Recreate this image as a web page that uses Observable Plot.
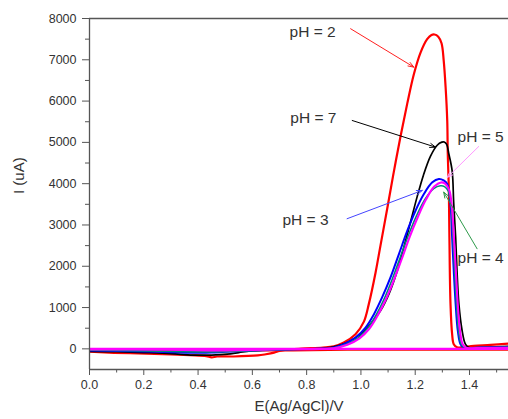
<!DOCTYPE html>
<html><head><meta charset="utf-8">
<script src="https://cdn.jsdelivr.net/npm/d3@7"></script>
<script src="https://cdn.jsdelivr.net/npm/@observablehq/plot@0.6"></script>
<style>body{margin:0;background:#fff;}</style>
</head><body><div id="chart"></div>
<script>
// ---- data (E in V, I in uA): forward sweep arrays and return sweep arrays ----
const ph2E = [0, 0.09, 0.21, 0.30, 0.37, 0.43, 0.45, 0.47, 0.53, 0.62, 0.65, 0.68, 0.70, 0.72, 0.78, 0.86, 0.90, 0.937, 0.98, 1.011, 1.029, 1.054, 1.072, 1.097, 1.121, 1.146, 1.171, 1.195, 1.220, 1.244, 1.260, 1.271, 1.285, 1.297, 1.305, 1.312, 1.318, 1.320, 1.324, 1.326, 1.330, 1.336, 1.342, 1.354, 1.416, 1.478, 1.544, 1.60];
const ph2I = [-70, -95, -115, -135, -155, -175, -205, -185, -185, -160, -130, -90, -50, -25, 5, 30, 60, 154, 356, 660, 1083, 1850, 2500, 3400, 4280, 5150, 5950, 6650, 7180, 7500, 7600, 7612, 7560, 7400, 6982, 6335, 5527, 4719, 3830, 2699, 1090, 356, 113, 40, 73, 97, 128, 150];
const ph2RetE = [1.60, 0.95, 0.75, 0];
const ph2RetI = [-20, -20, -35, -40];

const ph7E = [0, 0.1, 0.2, 0.3, 0.38, 0.45, 0.507, 0.55, 0.593, 0.65, 0.75, 0.85, 0.90, 0.949, 0.999, 1.035, 1.072, 1.103, 1.134, 1.158, 1.183, 1.207, 1.230, 1.256, 1.281, 1.298, 1.307, 1.316, 1.324, 1.336, 1.342, 1.349, 1.354, 1.361, 1.373, 1.385, 1.398, 1.45, 1.544, 1.60];
const ph7I = [-60, -70, -90, -115, -150, -150, -129, -90, -50, -30, -10, 15, 48, 154, 356, 598, 921, 1325, 1891, 2456, 3080, 3680, 4200, 4660, 4930, 5005, 5010, 4950, 4719, 4315, 3507, 2699, 1891, 1083, 436, 113, 32, 40, 60, 70];
const ph7RetE = [1.60, 0];
const ph7RetI = [-10, -10];

const ph3E = [0, 0.1, 0.2, 0.3, 0.4, 0.45, 0.5, 0.6, 0.7, 0.8, 0.85, 0.888, 0.937, 0.98, 1.017, 1.048, 1.078, 1.109, 1.140, 1.171, 1.201, 1.232, 1.263, 1.287, 1.305, 1.318, 1.330, 1.336, 1.342, 1.349, 1.357, 1.367, 1.379, 1.45, 1.544, 1.60];
const ph3I = [-40, -50, -65, -80, -95, -90, -70, -40, -20, -5, 0, 16, 113, 275, 517, 840, 1245, 1729, 2295, 2861, 3345, 3750, 4032, 4113, 4080, 3992, 3507, 2699, 1891, 1083, 436, 113, 32, 35, 40, 40];
const ph3RetE = [1.60, 0];
const ph3RetI = [-5, -5];

const ph4E = [0, 0.15, 0.3, 0.45, 0.55, 0.7, 0.85, 0.895, 0.945, 0.99, 1.025, 1.055, 1.085, 1.115, 1.145, 1.176, 1.206, 1.237, 1.268, 1.293, 1.308, 1.322, 1.333, 1.340, 1.346, 1.353, 1.360, 1.370, 1.382, 1.45, 1.544, 1.60];
const ph4I = [-30, -45, -60, -75, -55, -20, 0, 15, 105, 265, 500, 810, 1200, 1680, 2220, 2770, 3240, 3630, 3880, 3950, 3930, 3820, 3400, 2600, 1800, 1000, 420, 110, 30, 30, 35, 35];
const ph4RetE = [1.60, 0];
const ph4RetI = [-10, -10];

const ph5E = [0, 0.25, 0.45, 0.55, 0.7, 0.85, 0.90, 0.95, 0.995, 1.03, 1.06, 1.09, 1.12, 1.15, 1.18, 1.21, 1.24, 1.27, 1.295, 1.31, 1.325, 1.335, 1.343, 1.35, 1.357, 1.365, 1.375, 1.388, 1.45, 1.544, 1.60];
const ph5I = [-15, -20, -40, -35, -10, 0, 15, 100, 255, 480, 790, 1170, 1640, 2170, 2720, 3200, 3620, 3930, 4030, 4000, 3850, 3450, 2650, 1850, 1050, 430, 110, 30, 25, 25, 25];
const ph5RetE = [1.60, 0];
const ph5RetI = [0, 0];

// annotations
const labels = ["pH = 2", "pH = 7", "pH = 5", "pH = 3", "pH = 4"];
const labelE = [0.737, 0.740, 1.356, 0.711, 1.356];
const labelI = [7662, 5600, 5118, 3108, 2189];
const arrowE1 = [0.962, 0.968, 1.434, 0.949, 1.428];
const arrowI1 = [7752, 5530, 4901, 3151, 2424];
const arrowE2 = [1.195, 1.275, 1.318, 1.226, 1.305];
const arrowI2 = [6822, 4884, 4151, 3836, 3795];

// ticks
const xMajor = [0, 0.2, 0.4, 0.6, 0.8, 1.0, 1.2, 1.4];
const xMinor = [0.1, 0.3, 0.5, 0.7, 0.9, 1.1, 1.3, 1.5];
const yMajor = [0, 1000, 2000, 3000, 4000, 5000, 6000, 7000, 8000];
const yMinor = [500, 1500, 2500, 3500, 4500, 5500, 6500, 7500];

// ---- styles ----
const seriesStyle = [
  {E: ph2E, I: ph2I, rE: ph2RetE, rI: ph2RetI, color: "#ff0000", w: 2.2},
  {E: ph7E, I: ph7I, rE: ph7RetE, rI: ph7RetI, color: "#000000", w: 1.7},
  {E: ph3E, I: ph3I, rE: ph3RetE, rI: ph3RetI, color: "#0000ff", w: 2},
  {E: ph4E, I: ph4I, rE: ph4RetE, rI: ph4RetI, color: "#008a7a", w: 1.6},
  {E: ph5E, I: ph5I, rE: ph5RetE, rI: ph5RetI, color: "#ff00ff", w: 2.1}
];
const arrowColors = ["#ff2020", "#000000", "#ff99ff", "#4444ff", "#2e9a4a"];

const toRows = (E, I) => E.map((e, i) => ({E: e, I: I[i]}));
const ann = labels.map((t, i) => ({t, x: labelE[i], y: labelI[i]}));
const arr = labels.map((t, i) => ({x1: arrowE1[i], y1: arrowI1[i], x2: arrowE2[i], y2: arrowI2[i], c: arrowColors[i]}));

const axisColor = "#555";
const textColor = "#333";

const lineMarks = seriesStyle.flatMap(s => [
  Plot.line(toRows(s.rE, s.rI), {x: "E", y: "I", stroke: s.color, strokeWidth: s.w, clip: true}),
  Plot.line(toRows(s.E, s.I), {x: "E", y: "I", stroke: s.color, strokeWidth: s.w, clip: true, curve: "catmull-rom"})
]);

const plot = Plot.plot({
  width: 508, height: 419,
  marginLeft: 89, marginRight: 0, marginTop: 18, marginBottom: 50,
  x: {domain: [0, 1.5437]},
  y: {domain: [-500, 8000]},
  color: {type: "identity"},
  style: {fontFamily: "'Liberation Sans', Arial, sans-serif", fontSize: "12.5px", background: "#fff"},
  marks: [
    ...lineMarks,
    Plot.arrow(arr, {x1: "x1", y1: "y1", x2: "x2", y2: "y2", stroke: "c", strokeWidth: 1, headLength: 9, headAngle: 40}),
    Plot.text(ann, {x: "x", y: "y", text: "t", textAnchor: "start", fontSize: 15.5, fill: textColor}),
    Plot.ruleX([0], {stroke: axisColor, strokeWidth: 1.3}),
    Plot.ruleY([-500], {stroke: axisColor, strokeWidth: 1.3}),
    Plot.ruleY([8000], {stroke: axisColor, strokeWidth: 1.3}),
    Plot.axisX({ticks: xMajor, tickSize: 6, tickPadding: 5, tickFormat: d3.format(".1f"), stroke: axisColor, fill: textColor, label: null, fontSize: 12.5}),
    Plot.axisX({ticks: xMinor, tickSize: 3.5, tickFormat: () => "", stroke: axisColor, label: null}),
    Plot.axisY({ticks: yMajor, tickSize: 7, tickPadding: 6, tickFormat: d3.format("d"), stroke: axisColor, fill: textColor, label: null, fontSize: 12.5}),
    Plot.axisY({ticks: yMinor, tickSize: 4, tickFormat: () => "", stroke: axisColor, label: null}),
    Plot.text(["E(Ag/AgCl)/V"], {frameAnchor: "bottom", dy: 41, fontSize: 15, fill: textColor}),
    Plot.text(["I (uA)"], {frameAnchor: "left", dx: -70, rotate: -90, fontSize: 15, fill: textColor})
  ]
});
document.getElementById("chart").appendChild(plot);
</script>
</body></html>
